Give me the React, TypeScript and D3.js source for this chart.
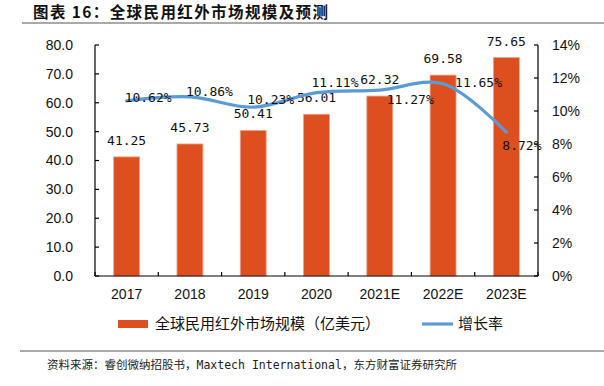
import React, { useEffect, useRef } from 'react';
import * as d3 from 'd3';

const years = ['2017', '2018', '2019', '2020', '2021E', '2022E', '2023E'];
const marketSize = [41.25, 45.73, 50.41, 56.01, 62.32, 69.58, 75.65];
const growthRate = [0.1062, 0.1086, 0.1023, 0.1111, 0.1127, 0.1165, 0.0872];
const leftTicks = [0, 10, 20, 30, 40, 50, 60, 70, 80];
const rightTicks = [0, 0.02, 0.04, 0.06, 0.08, 0.1, 0.12, 0.14];

// where Excel put the % labels, relative to each point
const pctLabelOffset: [number, number][] = [
  [-2, -3], [-4, -5], [-6, -8], [-5, -10], [7, 9], [12, -1], [-4, 13],
];

const BAR = '#DE4F1F';
const LINE = '#5B9BD5';
const NUM_FONT = '"Liberation Sans", Arial, sans-serif';
const LABEL_FONT = '"DejaVu Sans Mono", monospace';
const CJK_FONT = '"Noto Sans CJK SC", sans-serif';

const App: React.FC = () => {
  const svgRef = useRef<SVGSVGElement>(null);

  useEffect(() => {
    if (!svgRef.current) return;
    const svg = d3.select(svgRef.current);
    svg.selectAll('*').remove();

    const left = 95, right = 538, top = 45, bottom = 276;

    const x = d3.scaleBand().domain(years).range([left, right]).paddingInner(0.59).paddingOuter(0.295);
    const yL = d3.scaleLinear().domain([0, 80]).range([bottom, top]);
    const yR = d3.scaleLinear().domain([0, 0.14]).range([bottom, top]);
    const cx = (d: string) => (x(d) as number) + x.bandwidth() / 2;

    // title + rules
    svg.append('text')
      .attr('x', 33).attr('y', 12).attr('dy', '0.36em')
      .attr('font-family', CJK_FONT).attr('font-weight', 'bold').attr('font-size', 15.5)
      .attr('letter-spacing', 1.4).attr('fill', '#111')
      .text('图表 16：全球民用红外市场规模及预测');
    svg.append('line').attr('x1', 22).attr('x2', 604).attr('y1', 23).attr('y2', 23)
      .attr('stroke', '#8c8c8c').attr('stroke-width', 1.5);
    svg.append('line').attr('x1', 20).attr('x2', 604).attr('y1', 351).attr('y2', 351)
      .attr('stroke', '#8c8c8c').attr('stroke-width', 1.5);
    svg.append('text')
      .attr('x', 47).attr('y', 369)
      .attr('font-family', `${LABEL_FONT.split(',')[0]}, ${CJK_FONT}`).attr('font-size', 11.5).attr('fill', '#222')
      .text('资料来源：睿创微纳招股书，Maxtech International，东方财富证券研究所');

    // bars
    svg.append('g').selectAll('rect').data(years).join('rect')
      .attr('x', d => x(d) as number)
      .attr('y', (_, i) => yL(marketSize[i]))
      .attr('width', x.bandwidth())
      .attr('height', (_, i) => bottom - yL(marketSize[i]))
      .attr('fill', BAR).attr('stroke', '#F2A58A').attr('stroke-width', 0.8);

    svg.append('g').selectAll('text').data(years).join('text')
      .attr('x', d => cx(d))
      .attr('y', (_, i) => yL(marketSize[i]) - 12)
      .attr('text-anchor', 'middle')
      .attr('font-family', LABEL_FONT).attr('font-size', 13).attr('fill', '#111')
      .text((_, i) => marketSize[i].toFixed(2));

    // axes
    const axes = svg.append('g').attr('stroke', '#000').attr('stroke-width', 1.2);
    axes.append('line').attr('x1', left).attr('x2', left).attr('y1', top).attr('y2', bottom);
    axes.append('line').attr('x1', right).attr('x2', right).attr('y1', top).attr('y2', bottom);
    axes.append('line').attr('x1', left).attr('x2', right).attr('y1', bottom).attr('y2', bottom);
    axes.selectAll('.tl').data(leftTicks).join('line')
      .attr('x1', left).attr('x2', left + 4).attr('y1', d => yL(d)).attr('y2', d => yL(d));
    axes.selectAll('.tr').data(rightTicks).join('line')
      .attr('x1', right - 4).attr('x2', right).attr('y1', d => yR(d)).attr('y2', d => yR(d));
    axes.selectAll('.tx').data(d3.range(years.length + 1)).join('line')
      .attr('x1', i => left + i * x.step()).attr('x2', i => left + i * x.step())
      .attr('y1', bottom).attr('y2', bottom - 4);

    svg.append('g').selectAll('text').data(leftTicks).join('text')
      .attr('x', 73).attr('y', d => yL(d)).attr('dy', '0.35em')
      .attr('text-anchor', 'end')
      .attr('font-family', NUM_FONT).attr('font-size', 14).attr('fill', '#111')
      .text(d => d.toFixed(1));

    svg.append('g').selectAll('text').data(rightTicks).join('text')
      .attr('x', 552).attr('y', d => yR(d)).attr('dy', '0.35em')
      .attr('font-family', NUM_FONT).attr('font-size', 14).attr('fill', '#111')
      .text(d => d3.format('.0%')(d));

    svg.append('g').selectAll('text').data(years).join('text')
      .attr('x', d => cx(d)).attr('y', 294).attr('dy', '0.35em')
      .attr('text-anchor', 'middle')
      .attr('font-family', NUM_FONT).attr('font-size', 14).attr('fill', '#111')
      .text(d => d);

    // growth line
    const line = d3.line<number>()
      .x((_, i) => cx(years[i]))
      .y(d => yR(d))
      .curve(d3.curveCatmullRom.alpha(0.5));
    svg.append('path').datum(growthRate)
      .attr('d', line)
      .attr('fill', 'none').attr('stroke', LINE).attr('stroke-width', 3.2).attr('stroke-linecap', 'round');

    svg.append('g').selectAll('text').data(growthRate).join('text')
      .attr('x', (_, i) => cx(years[i]) + pctLabelOffset[i][0])
      .attr('y', (d, i) => yR(d) + pctLabelOffset[i][1]).attr('dy', '0.35em')
      .attr('font-family', LABEL_FONT).attr('font-size', 13).attr('fill', '#111')
      .text(d => (d * 100).toFixed(2) + '%');

    // legend
    const lg = svg.append('g');
    lg.append('rect').attr('x', 118).attr('y', 320).attr('width', 30).attr('height', 8).attr('fill', BAR);
    lg.append('text').attr('x', 155).attr('y', 324).attr('dy', '0.35em')
      .attr('font-family', CJK_FONT).attr('font-size', 15).attr('fill', '#111')
      .text('全球民用红外市场规模（亿美元）');
    lg.append('line').attr('x1', 422).attr('x2', 453).attr('y1', 324).attr('y2', 324)
      .attr('stroke', LINE).attr('stroke-width', 3.2);
    lg.append('text').attr('x', 458).attr('y', 324).attr('dy', '0.35em')
      .attr('font-family', CJK_FONT).attr('font-size', 15).attr('fill', '#111')
      .text('增长率');
  }, []);

  return (
    <div style={{ position: 'fixed', left: 0, top: 0, background: '#fff' }}>
      <svg ref={svgRef} width={604} height={386}></svg>
    </div>
  );
};

export default App;
